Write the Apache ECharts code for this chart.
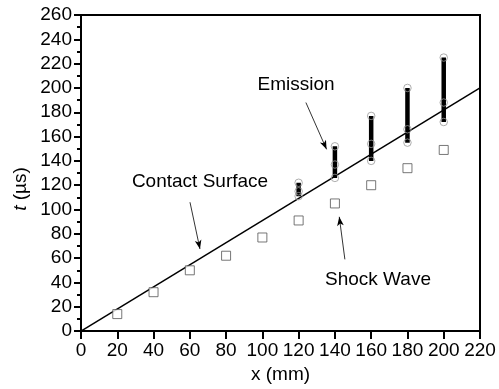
<!DOCTYPE html>
<html>
<head>
<meta charset="utf-8">
<script src="https://cdn.jsdelivr.net/npm/echarts@6/dist/echarts.min.js"></script>
<style>
  html, body { margin: 0; padding: 0; background: #fff; }
  #chart { width: 499px; height: 389px; }
</style>
</head>
<body>
<div id="chart"></div>
<script>
// shock wave (open squares)
var shockX = [20, 40, 60, 80, 100, 120, 140, 160, 180, 200];
var shockT = [14, 32, 50, 62, 77, 91, 105, 120, 134, 149];

// contact surface line
var contactX = [0, 220];
var contactT = [0, 200];

// emission bars: x position, low / middle / high circles
var emisX = [120, 140, 160, 180, 200];
var emisLo = [111, 126, 140, 155, 172];
var emisMid = [115, 137, 154, 166, 188];
var emisHi = [122, 152, 177, 200, 225];

var font = 'Liberation Sans, Arial, sans-serif';

var myChart = echarts.init(document.getElementById('chart'));

var series = [];

series.push({
    name: 'Contact Surface',
    type: 'line',
    data: contactX.map(function (x, i) { return [x, contactT[i]]; }),
    symbol: 'none',
    lineStyle: { color: '#000', width: 1.5 },
    z: 2,
    silent: true,
    markLine: {
        silent: true,
        symbol: ['none', 'arrow'],
        symbolSize: [5, 9],
        lineStyle: { color: '#000', width: 0.8, type: 'solid' },
        label: { show: false },
        data: [
            [{ coord: [124, 188] }, { coord: [135.4, 149.5] }],
            [{ coord: [60.1, 106] }, { coord: [65.6, 67.5] }],
            [{ coord: [145.5, 59] }, { coord: [142.4, 94] }]
        ]
    }
});

// thick vertical bars for emission
emisX.forEach(function (x, i) {
    series.push({
        type: 'line',
        data: [[x, emisLo[i]], [x, emisHi[i]]],
        symbol: 'none',
        lineStyle: { color: '#000', width: 4.5 },
        z: 3,
        silent: true
    });
});

var circles = [];
emisX.forEach(function (x, i) {
    circles.push([x, emisLo[i]]);
    circles.push([x, emisMid[i]]);
    circles.push([x, emisHi[i]]);
});
series.push({
    type: 'scatter',
    data: circles,
    symbol: 'circle',
    symbolSize: 7.5,
    itemStyle: { color: 'rgba(255,255,255,0)', borderColor: '#999', borderWidth: 1 },
    z: 4,
    silent: true
});

series.push({
    name: 'Shock Wave',
    type: 'scatter',
    data: shockX.map(function (x, i) { return [x, shockT[i]]; }),
    symbol: 'rect',
    symbolSize: 9,
    itemStyle: { color: '#fff', borderColor: '#555', borderWidth: 1 },
    z: 5,
    silent: true
});

var options = {
    animation: false,
    backgroundColor: '#fff',
    grid: {
        left: 81, right: 19, top: 15, bottom: 57,
        show: true,
        borderColor: '#000',
        borderWidth: 2,
        backgroundColor: 'transparent'
    },
    xAxis: {
        type: 'value',
        min: 0, max: 220, interval: 20,
        name: 'x (mm)',
        nameLocation: 'middle',
        nameGap: 33,
        nameTextStyle: { fontFamily: font, fontSize: 19, color: '#000' },
        axisLine: { show: true, onZero: false, lineStyle: { color: '#000', width: 2 } },
        axisTick: { show: true, inside: false, length: 8, lineStyle: { color: '#000', width: 2 } },
        axisLabel: { fontFamily: font, fontSize: 19, color: '#000', margin: 10 },
        splitLine: { show: false }
    },
    yAxis: {
        type: 'value',
        min: 0, max: 260, interval: 20,
        axisLine: { show: true, onZero: false, lineStyle: { color: '#000', width: 2 } },
        axisTick: { show: true, inside: false, length: 7, lineStyle: { color: '#000', width: 2 } },
        minorTick: { show: true, splitNumber: 2, length: 4, lineStyle: { color: '#000', width: 2 } },
        axisLabel: { fontFamily: font, fontSize: 19, color: '#000', margin: 9 },
        splitLine: { show: false },
        minorSplitLine: { show: false }
    },
    graphic: [
        {
            type: 'text', x: 21, y: 189, rotation: Math.PI / 2,
            style: {
                text: '{i|t} (µs)',
                font: '19px ' + font,
                fill: '#000',
                align: 'center',
                verticalAlign: 'middle',
                rich: { i: { fontStyle: 'italic', fontFamily: font, fontSize: 19, fill: '#000' } }
            }
        },
        {
            type: 'text', x: 296, y: 85,
            style: { text: 'Emission', font: '19px ' + font, fill: '#000', align: 'center', verticalAlign: 'middle' }
        },
        {
            type: 'text', x: 200, y: 182,
            style: { text: 'Contact Surface', font: '19px ' + font, fill: '#000', align: 'center', verticalAlign: 'middle' }
        },
        {
            type: 'text', x: 378, y: 280,
            style: { text: 'Shock Wave', font: '19px ' + font, fill: '#000', align: 'center', verticalAlign: 'middle' }
        }
    ],
    series: series
};

myChart.setOption(options);
</script>
</body>
</html>
